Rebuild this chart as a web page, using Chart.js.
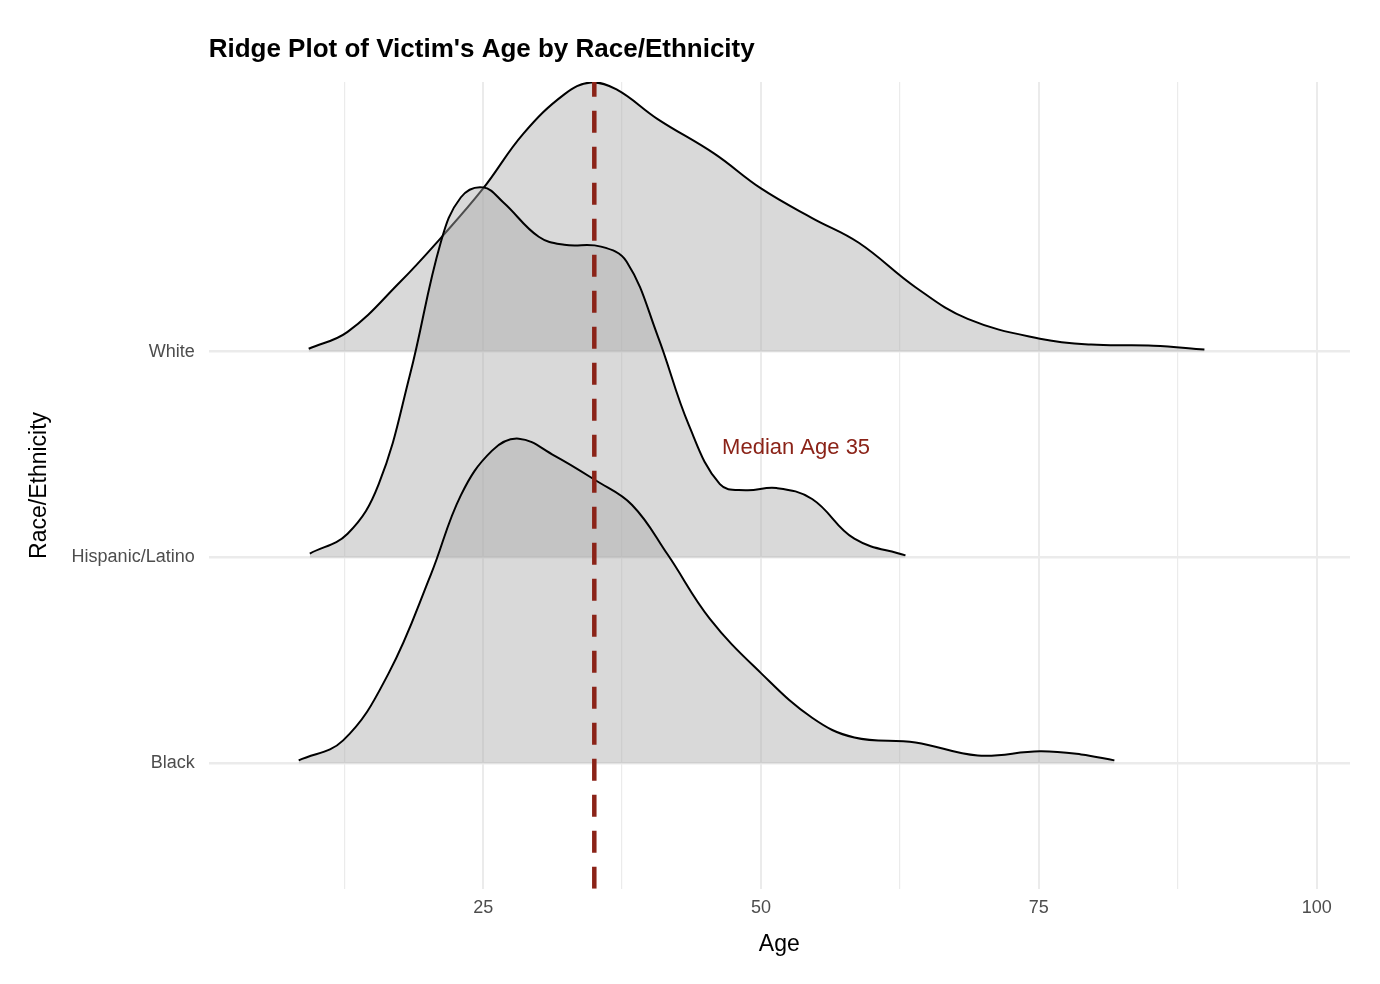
<!doctype html>
<html><head><meta charset="utf-8"><title>Ridge Plot</title>
<style>body{margin:0;background:#fff}</style></head>
<body>
<canvas id="c" width="1380" height="984"></canvas>
<script src="https://cdn.jsdelivr.net/npm/chart.js"></script>
<script>
// groups and their baselines on the y axis
const groups = ['Black', 'Hispanic/Latino', 'White']
const baselines = [1, 2, 3]

// density curves: age and ridge height (in row units)
const whiteAge = [9.3, 12.8, 17.5, 21.2, 25, 28.6, 32.3, 34.7, 37, 40.7, 45.8, 50, 54.6, 58.8, 63.9, 68.6, 75.1, 79.7, 85.3, 89.9]
const whiteH = [0.014, 0.096, 0.337, 0.553, 0.793, 1.058, 1.25, 1.308, 1.274, 1.13, 0.962, 0.793, 0.649, 0.529, 0.313, 0.159, 0.063, 0.034, 0.029, 0.01]
const hispAge = [9.4, 12.8, 15.6, 18.4, 21.2, 23, 25, 26.8, 30, 32.3, 35.6, 37.9, 40.7, 43.5, 46.3, 48.6, 51.4, 54.6, 58.4, 63]
const hispH = [0.019, 0.115, 0.356, 0.885, 1.534, 1.75, 1.798, 1.726, 1.558, 1.519, 1.51, 1.438, 1.077, 0.644, 0.356, 0.327, 0.337, 0.284, 0.091, 0.01]
const blackAge = [8.4, 12.4, 16.5, 20.3, 23, 25.8, 28.2, 31.4, 35.1, 38.4, 41.6, 45.4, 50, 54.6, 58.4, 63.9, 69.5, 75.1, 78.8, 81.8]
const blackH = [0.014, 0.111, 0.438, 0.918, 1.303, 1.519, 1.577, 1.495, 1.375, 1.255, 1.014, 0.702, 0.438, 0.221, 0.125, 0.101, 0.038, 0.058, 0.043, 0.014]

const medianAge = 35
const xTicks = [12.5, 25, 37.5, 50, 62.5, 75, 87.5, 100]

const fillCol = 'rgba(171,171,171,0.45)'
const red = '#8b2318'
const font = '"Liberation Sans", Arial, sans-serif'

function ridge(ages, hs, base) {
  return {
    data: ages.map((a, i) => ({ x: a, y: base + hs[i] })),
    borderColor: '#000', borderWidth: 2, backgroundColor: fillCol,
    fill: { value: base }, pointRadius: 0, tension: 0.4
  }
}

// title at the plot's left edge, and the median label
const textPlugin = {
  id: 'texts',
  afterDraw(chart) {
    const { ctx, scales, chartArea } = chart
    ctx.save()
    ctx.textAlign = 'left'
    ctx.textBaseline = 'middle'
    ctx.fillStyle = '#000'
    ctx.font = 'bold 26px ' + font
    ctx.fillText("Ridge Plot of Victim's Age by Race/Ethnicity", chartArea.left, 50)
    ctx.fillStyle = red
    ctx.font = '22px ' + font
    ctx.fillText('Median Age 35', scales.x.getPixelForValue(46.5), scales.y.getPixelForValue(2.53))
    ctx.restore()
  }
}

new Chart(document.getElementById('c'), {
  type: 'line',
  data: {
    // first dataset is drawn on top
    datasets: [
      { data: [{ x: medianAge, y: 0.39 }, { x: medianAge, y: 4.31 }], borderColor: red,
        borderWidth: 4.5, borderDash: [22, 14], pointRadius: 0, fill: false },
      ridge(blackAge, blackH, baselines[0]),
      ridge(hispAge, hispH, baselines[1]),
      ridge(whiteAge, whiteH, baselines[2])
    ]
  },
  options: {
    responsive: false,
    animation: false,
    layout: { padding: { left: 22, right: 30, top: 82, bottom: 22 } },
    plugins: {
      legend: { display: false },
      tooltip: { enabled: false },
      title: { display: false }
    },
    scales: {
      x: {
        type: 'linear', min: 0.3, max: 103,
        afterBuildTicks: (s) => { s.ticks = xTicks.map((v) => ({ value: v })) },
        ticks: { callback: (v) => (v % 25 === 0 ? v : ''), color: '#4d4d4d', font: { size: 18, family: font }, maxRotation: 0, autoSkip: false, padding: 8 },
        grid: { color: '#ebebeb', lineWidth: (c) => (c.tick && c.tick.value % 25 === 0 ? 2 : 1.2), drawTicks: false },
        border: { display: false },
        title: { display: true, text: 'Age', color: '#000', font: { size: 23, family: font } }
      },
      y: {
        type: 'linear', min: 0.39, max: 4.31,
        afterBuildTicks: (s) => { s.ticks = baselines.map((v) => ({ value: v })) },
        ticks: { callback: (v) => groups[baselines.indexOf(v)] || '', color: '#4d4d4d', font: { size: 18, family: font }, padding: 14 },
        grid: { color: '#ebebeb', lineWidth: 2.5, drawTicks: false },
        border: { display: false },
        title: { display: true, text: 'Race/Ethnicity', color: '#000', font: { size: 23, family: font } }
      }
    }
  },
  plugins: [textPlugin]
})
</script>
</body></html>
